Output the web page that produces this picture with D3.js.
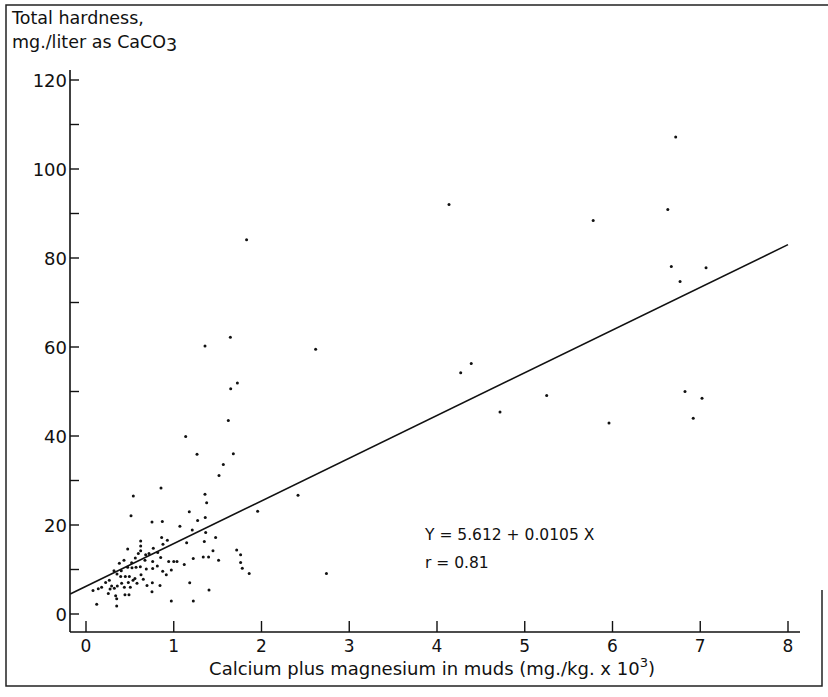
<!DOCTYPE html>
<html>
<head>
<meta charset="utf-8">
<script src="https://cdnjs.cloudflare.com/ajax/libs/d3/7.8.5/d3.min.js"></script>
<style>
    body { margin: 0; background: #fff; }
    text { font-family: "DejaVu Sans", sans-serif; fill: #111; }
</style>
</head>
<body>
<div id="chart"></div>
<script>
// Ca + Mg in muds (mg/kg x 10^3)
var xValues = [
    1.83, 1.645, 1.356, 2.617, 1.725, 1.649, 1.622, 1.136, 1.265, 1.679,
    1.565, 1.516, 1.356, 1.375, 2.416, 1.177, 1.956, 1.359, 1.272, 1.07,
    1.211, 1.364, 1.147, 1.477, 1.348, 1.447, 1.717, 1.762, 1.222, 1.336,
    1.397, 1.511, 1.762, 1.781, 1.12, 1.86, 2.74, 1.182,
    4.137, 5.78, 6.63, 6.72, 6.67, 7.066, 6.77, 4.39, 4.27, 5.25,
    4.718, 5.96, 6.826, 7.02, 6.92,
    0.855, 0.539, 0.513, 0.752, 0.87, 0.862, 0.623, 0.877, 0.475, 0.623,
    0.623, 0.68, 0.718, 0.767, 0.817, 0.672, 0.76, 0.851, 0.942, 1.0,
    1.037, 0.596, 0.562, 0.52, 0.433, 0.38, 0.475, 0.524, 0.57, 0.619,
    0.687, 0.76, 0.813, 0.874, 0.915, 0.972, 0.402, 0.353, 0.319, 0.266,
    0.224, 0.178, 0.14, 0.08, 0.292, 0.323, 0.274, 0.357, 0.406, 0.437,
    0.482, 0.536, 0.581, 0.505, 0.395, 0.448, 0.494, 0.558, 0.627, 0.653,
    0.695, 0.752, 0.756, 0.254, 0.338, 0.444, 0.49, 0.35, 0.122, 0.35,
    0.843, 0.972, 1.223, 1.402, 0.927
];

// total hardness (mg/l as CaCO3)
var yValues = [
    84.1, 62.2, 60.2, 59.5, 51.9, 50.6, 43.5, 39.9, 35.9, 36.0,
    33.6, 31.1, 26.9, 25.0, 26.7, 23.0, 23.1, 21.7, 21.0, 19.7,
    18.9, 18.3, 16.0, 17.2, 16.3, 14.2, 14.4, 13.3, 12.5, 12.8,
    12.8, 12.1, 11.6, 10.3, 11.1, 9.1, 9.1, 7.0,
    92.0, 88.4, 90.9, 107.2, 78.1, 77.8, 74.7, 56.3, 54.2, 49.1,
    45.4, 42.9, 50.0, 48.5, 44.0,
    28.3, 26.5, 22.1, 20.7, 20.8, 17.2, 16.4, 15.7, 14.6, 15.3,
    14.2, 13.3, 13.6, 14.8, 13.8, 12.1, 11.8, 12.7, 11.8, 11.8,
    11.8, 13.6, 12.6, 11.5, 12.1, 11.4, 10.5, 10.4, 10.5, 10.6,
    10.1, 10.2, 10.8, 9.6, 8.8, 9.9, 9.7, 9.0, 9.7, 7.6,
    7.1, 6.0, 5.7, 5.3, 6.3, 5.8, 5.6, 6.3, 6.9, 6.0,
    7.1, 7.6, 6.9, 6.0, 8.4, 8.4, 8.4, 8.0, 8.8, 7.8,
    6.4, 5.0, 7.0, 4.6, 4.1, 4.3, 4.3, 3.4, 2.2, 1.8,
    6.4, 2.9, 2.9, 5.4, 16.6
];

// fitted line ends, as drawn
var fitX = [-0.18, 8.0];
var fitY = [4.5, 83.0];

var xTicks = [0, 1, 2, 3, 4, 5, 6, 7, 8];
var yTicks = [0, 10, 20, 30, 40, 50, 60, 70, 80, 90, 100, 110, 120];
var yTickLabels = [0, 20, 40, 60, 80, 100, 120];

function init(){
    var w = 828;
    var h = 697;

    // plot box edges in px
    var left = 70, right = 800, top = 70, bottom = 632;

    var xScale = d3.scaleLinear()
                    .domain([0, 8])
                    .range([86, 788]);

    var yScale = d3.scaleLinear()
                    .domain([0, 120])
                    .range([614, 80]);

    var svg = d3.select('#chart')
                .append('svg')
                .attr('width', w)
                .attr('height', h);

    // frame round the figure
    svg.append('path')
        .attr('d', 'M828,5 L6,5 L6,686 L822,686 L822,590')
        .attr('fill', 'none')
        .attr('stroke', '#222')
        .attr('stroke-width', 1.5);

    // axis lines
    svg.append('line')
        .attr('x1', left).attr('x2', left)
        .attr('y1', top).attr('y2', bottom)
        .attr('stroke', '#111').attr('stroke-width', 1.6);

    svg.append('line')
        .attr('x1', left).attr('x2', right)
        .attr('y1', bottom).attr('y2', bottom)
        .attr('stroke', '#111').attr('stroke-width', 1.6);

    // y ticks point inward
    svg.selectAll('.ytick')
        .data(yTicks)
        .enter()
        .append('line')
        .attr('class', 'ytick')
        .attr('x1', left).attr('x2', left + 9)
        .attr('y1', function(d){ return yScale(d); })
        .attr('y2', function(d){ return yScale(d); })
        .attr('stroke', '#111').attr('stroke-width', 1.4);

    svg.selectAll('.ylab')
        .data(yTickLabels)
        .enter()
        .append('text')
        .attr('class', 'ylab')
        .text(function(d){ return d; })
        .attr('text-anchor', 'end')
        .attr('font-size', 18)
        .attr('x', left - 3)
        .attr('y', function(d){ return yScale(d) + 7; });

    // x ticks point up
    svg.selectAll('.xtick')
        .data(xTicks)
        .enter()
        .append('line')
        .attr('class', 'xtick')
        .attr('x1', function(d){ return xScale(d); })
        .attr('x2', function(d){ return xScale(d); })
        .attr('y1', bottom).attr('y2', bottom - 11)
        .attr('stroke', '#111').attr('stroke-width', 1.4);

    svg.selectAll('.xlab')
        .data(xTicks)
        .enter()
        .append('text')
        .attr('class', 'xlab')
        .text(function(d){ return d; })
        .attr('text-anchor', 'middle')
        .attr('font-size', 17)
        .attr('x', function(d){ return xScale(d); })
        .attr('y', bottom + 20);

    // regression line
    svg.append('line')
        .attr('x1', xScale(fitX[0])).attr('y1', yScale(fitY[0]))
        .attr('x2', xScale(fitX[1])).attr('y2', yScale(fitY[1]))
        .attr('stroke', '#111').attr('stroke-width', 1.6);

    // points
    svg.selectAll('circle')
        .data(xValues)
        .enter()
        .append('circle')
        .attr('cx', function(d){ return xScale(d); })
        .attr('cy', function(d, i){ return yScale(yValues[i]); })
        .attr('r', 1.5)
        .attr('fill', '#111');

    // axis titles
    var ytitle = svg.append('text')
        .attr('x', 12).attr('y', 24)
        .attr('font-size', 17.5);
    ytitle.append('tspan').text('Total hardness,');
    ytitle.append('tspan').attr('x', 12).attr('dy', 24).text('mg./liter as CaCO');
    ytitle.append('tspan').attr('dy', 3).text('3');

    var xtitle = svg.append('text')
        .attr('x', 432).attr('y', 675)
        .attr('text-anchor', 'middle')
        .attr('font-size', 18);
    xtitle.append('tspan').text('Calcium plus magnesium in muds (mg./kg. x 10');
    xtitle.append('tspan').attr('dy', -8).attr('font-size', 13).text('3');
    xtitle.append('tspan').attr('dy', 8).text(')');

    // equation
    svg.append('text')
        .attr('x', 425).attr('y', 540)
        .attr('font-size', 15.5)
        .text('Y = 5.612 + 0.0105 X');

    svg.append('text')
        .attr('x', 425).attr('y', 568)
        .attr('font-size', 15.5)
        .text('r = 0.81');
}

window.onload = init;
</script>
</body>
</html>
